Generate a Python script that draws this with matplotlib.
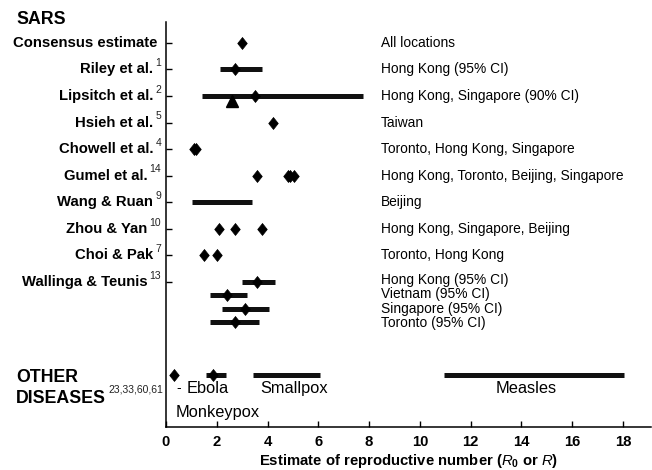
import numpy as np
import matplotlib
matplotlib.use("Agg")
import matplotlib.pyplot as plt

plt.rcParams['font.family'] = ['Liberation Sans', 'DejaVu Sans']
plt.rcParams['mathtext.fontset'] = 'custom'
plt.rcParams['mathtext.rm'] = 'Liberation Sans:bold'
plt.rcParams['mathtext.it'] = 'Liberation Sans:italic'
plt.rcParams['mathtext.bf'] = 'Liberation Sans:bold'

# ---------------- data ----------------
studies = ["Consensus estimate", "Riley et al.", "Lipsitch et al.", "Hsieh et al.",
           "Chowell et al.", "Gumel et al.", "Wang & Ruan", "Zhou & Yan",
           "Choi & Pak", "Wallinga & Teunis"]
refs = ["", "1", "2", "5", "4", "14", "9", "10", "7", "13"]
study_rows = [0, 1, 2, 3, 4, 5, 6, 7, 8, 9]

locations = ["All locations", "Hong Kong (95% CI)", "Hong Kong, Singapore (90% CI)",
             "Taiwan", "Toronto, Hong Kong, Singapore",
             "Hong Kong, Toronto, Beijing, Singapore", "Beijing",
             "Hong Kong, Singapore, Beijing", "Toronto, Hong Kong"]
wallinga_locations = ["Hong Kong (95% CI)", "Vietnam (95% CI)",
                      "Singapore (95% CI)", "Toronto (95% CI)"]

# estimate rows (Wallinga & Teunis has four sub-rows)
est_rows = [0, 1, 2, 3, 4, 5, 6, 7, 8, 9, 9.5, 10, 10.5]
point_estimates = [[3.0], [2.7], [3.5], [4.2], [1.1, 1.2], [3.6, 4.8, 4.9, 5.05],
                   [], [2.1, 2.7, 3.8], [1.5, 2.0], [3.6], [2.4], [3.1], [2.7]]
ci_low = [np.nan, 2.13, 1.43, np.nan, np.nan, np.nan, 1.04, np.nan, np.nan,
          3.0, 1.73, 2.22, 1.73]
ci_high = [np.nan, 3.77, 7.77, np.nan, np.nan, np.nan, 3.37, np.nan, np.nan,
           4.29, 3.18, 4.07, 3.66]
lipsitch_alt = 2.6          # triangle estimate
lipsitch_row = 2

# other diseases
other_row = 12.5
diseases = ["Monkeypox", "Ebola", "Smallpox", "Measles"]
disease_point = [0.3, 1.86, np.nan, np.nan]
disease_low = [np.nan, 1.57, 3.44, 10.95]
disease_high = [np.nan, 2.36, 6.08, 18.05]

xticks = [0, 2, 4, 6, 8, 10, 12, 14, 16, 18]

# ---------------- figure ----------------
W, H = 652, 470
fig = plt.figure(figsize=(W / 100, H / 100), dpi=100)
ax = fig.add_axes([166 / W, 1 - 426.7 / H, (651 - 166) / W, (426.7 - 22) / H])
ax.set_xlim(0, 19.1)
ax.set_ylim(14.44, -0.78)

for s in ['top', 'right']:
    ax.spines[s].set_visible(False)
for s in ['left', 'bottom']:
    ax.spines[s].set_linewidth(1.1)

ax.set_xticks(xticks)
ax.set_xticklabels([str(t) for t in xticks], fontsize=10.7, fontweight='bold')
ax.tick_params(axis='x', direction='in', length=4, width=1.0, pad=6)
ax.set_yticks(study_rows)
ax.set_yticklabels([])
ax.tick_params(axis='y', direction='in', length=4, width=1.0)

diamond = [(0, 1), (0.8, 0), (0, -1), (-0.8, 0), (0, 1)]
DMS = 8.6

# intervals
for y, lo, hi in zip(est_rows, ci_low, ci_high):
    if not np.isnan(lo):
        ax.plot([lo, hi], [y, y], color='#111111', lw=3.6, solid_capstyle='butt', zorder=2)
for y, pts in zip(est_rows, point_estimates):
    if pts:
        ax.plot(pts, [y] * len(pts), linestyle='none', marker=diamond, ms=DMS,
                color='black', mec='black', mew=0.5, zorder=3)
ax.plot([lipsitch_alt], [lipsitch_row + 0.2], linestyle='none', marker='^', ms=8,
        color='black', zorder=3)

for lo, hi, p in zip(disease_low, disease_high, disease_point):
    if not np.isnan(lo):
        ax.plot([lo, hi], [other_row, other_row], color='#111111', lw=3.6,
                solid_capstyle='butt', zorder=2)
    if not np.isnan(p):
        ax.plot([p], [other_row], linestyle='none', marker=diamond, ms=DMS,
                color='black', mec='black', mew=0.5, zorder=3)

# disease labels
lab_fs = 11.8
ax.text(0.83, 13.0, "Ebola", fontsize=lab_fs, ha='left', va='center')
ax.text(0.5, 12.97, "-", fontsize=10, ha='center', va='center')
ax.text(3.7, 13.0, "Smallpox", fontsize=lab_fs, ha='left', va='center')
ax.text(14.2, 13.0, "Measles", fontsize=lab_fs, ha='center', va='center')
ax.text(0.37, 13.9, "Monkeypox", fontsize=lab_fs, ha='left', va='center')

# location texts
loc_fs = 9.9
for y, t in zip(study_rows[:9], locations):
    ax.text(8.45, y, t, fontsize=loc_fs, ha='left', va='center')
for y, t in zip([8.92, 9.46, 10.0, 10.54], wallinga_locations):
    ax.text(8.45, y, t, fontsize=loc_fs, ha='left', va='center')

# study labels with superscripts
for y, name, r in zip(study_rows, studies, refs):
    if r:
        sup = ax.annotate(r, xy=(0, y), xycoords=('axes fraction', 'data'),
                          xytext=(-3.5, 4.5), textcoords='offset points',
                          ha='right', va='center', fontsize=7.5, color='#222222')
        ax.annotate(name, xy=(0, 0.5), xycoords=sup, xytext=(-1.5, -4.5),
                    textcoords='offset points', ha='right', va='center',
                    fontsize=10.7, fontweight='bold')
    else:
        ax.annotate(name, xy=(0, y), xycoords=('axes fraction', 'data'),
                    xytext=(-6, 0), textcoords='offset points',
                    ha='right', va='center', fontsize=10.7, fontweight='bold')

# section headings
fig.text(16 / W, 1 - 20 / H, "SARS", fontsize=12.8, fontweight='bold', ha='left', va='center')
fig.text(16 / W, 1 - 377.5 / H, "OTHER", fontsize=12.8, fontweight='bold', ha='left', va='center')
fig.text(16 / W, 1 - 398.5 / H, "DISEASES", fontsize=12.8, fontweight='bold', ha='left', va='center')
fig.text(108 / W, 1 - 390 / H, "23,33,60,61", fontsize=7.5, ha='left', va='center', color='#222222')

ax.set_xlabel(r"Estimate of reproductive number ($\mathit{R}_{\mathbf{0}}$ or $\mathit{R}$)",
              fontsize=10.7, fontweight='bold', labelpad=2)

fig.savefig("out.png", dpi=100)
